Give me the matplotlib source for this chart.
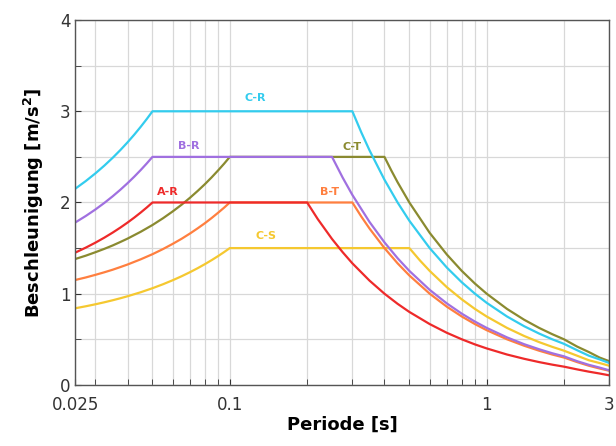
import numpy as np
import matplotlib
matplotlib.use('Agg')
import matplotlib.pyplot as plt
import matplotlib.ticker as ticker

# spectra: period [s] and acceleration [m/s^2]
T_R_RISE = [0.025, 0.0275, 0.03, 0.0325, 0.035, 0.0375, 0.04, 0.0425, 0.045, 0.0475, 0.05]
T_T_RISE = [0.025, 0.0275, 0.03, 0.0325, 0.035, 0.0375, 0.04, 0.045, 0.05, 0.055, 0.06, 0.065,
            0.07, 0.075, 0.08, 0.085, 0.09, 0.095, 0.1]
T_TAIL = [0.6, 0.7, 0.8, 0.9, 1.0, 1.2, 1.4, 1.6, 1.8, 2.0, 2.25, 2.5, 2.75, 3.0]

T_AR = T_R_RISE + [0.2, 0.22, 0.25, 0.275, 0.3, 0.35, 0.4, 0.45, 0.5] + T_TAIL
A_AR = [1.45, 1.505, 1.56, 1.615, 1.67, 1.725, 1.78, 1.835, 1.89, 1.945, 2.0,
        2.0, 1.818, 1.6, 1.455, 1.333, 1.143, 1.0, 0.889, 0.8,
        0.667, 0.571, 0.5, 0.444, 0.4, 0.333, 0.286, 0.25, 0.222, 0.2, 0.17, 0.145, 0.125, 0.105]

T_BR = T_R_RISE + [0.25, 0.275, 0.3, 0.35, 0.4, 0.45, 0.5] + T_TAIL
A_BR = [1.78, 1.852, 1.924, 1.996, 2.068, 2.14, 2.212, 2.284, 2.356, 2.428, 2.5,
        2.5, 2.273, 2.083, 1.786, 1.563, 1.389, 1.25,
        1.042, 0.893, 0.781, 0.694, 0.625, 0.521, 0.446, 0.391, 0.347, 0.313, 0.26, 0.22, 0.19, 0.16]

T_CR = T_R_RISE + [0.3, 0.325, 0.35, 0.4, 0.45, 0.5] + T_TAIL
A_CR = [2.15, 2.235, 2.32, 2.405, 2.49, 2.575, 2.66, 2.745, 2.83, 2.915, 3.0,
        3.0, 2.769, 2.571, 2.25, 2.0, 1.8,
        1.5, 1.286, 1.125, 1.0, 0.9, 0.75, 0.643, 0.563, 0.5, 0.45, 0.38, 0.32, 0.28, 0.24]

T_BT = T_T_RISE + [0.3, 0.325, 0.35, 0.4, 0.45, 0.5] + T_TAIL
A_BT = [1.15, 1.178, 1.207, 1.235, 1.263, 1.292, 1.32, 1.377, 1.433, 1.49, 1.547, 1.603,
        1.66, 1.717, 1.773, 1.83, 1.887, 1.943, 2.0,
        2.0, 1.846, 1.714, 1.5, 1.333, 1.2,
        1.0, 0.857, 0.75, 0.667, 0.6, 0.5, 0.429, 0.375, 0.333, 0.3, 0.25, 0.21, 0.18, 0.155]

T_CT = T_T_RISE + [0.4, 0.425, 0.45, 0.5] + T_TAIL
A_CT = [1.38, 1.417, 1.455, 1.492, 1.529, 1.567, 1.604, 1.679, 1.753, 1.828, 1.903, 1.977,
        2.052, 2.127, 2.201, 2.276, 2.351, 2.425, 2.5,
        2.5, 2.353, 2.222, 2.0,
        1.667, 1.429, 1.25, 1.111, 1.0, 0.833, 0.714, 0.625, 0.556, 0.5, 0.42, 0.36, 0.3, 0.26]

T_CS = T_T_RISE + [0.5, 0.55] + T_TAIL
A_CS = [0.84, 0.862, 0.884, 0.906, 0.928, 0.95, 0.972, 1.016, 1.06, 1.104, 1.148, 1.192,
        1.236, 1.28, 1.324, 1.368, 1.412, 1.456, 1.5,
        1.5, 1.364,
        1.25, 1.071, 0.938, 0.833, 0.75, 0.625, 0.536, 0.469, 0.417, 0.375, 0.32, 0.27, 0.24, 0.21]

curves = [
    ('C-S', T_CS, A_CS, '#f5c830', 0.138, 1.63),
    ('B-T', T_BT, A_BT, '#ff7f3f', 0.244, 2.11),
    ('C-T', T_CT, A_CT, '#8a8a30', 0.30, 2.61),
    ('A-R', T_AR, A_AR, '#ee2a2a', 0.0575, 2.11),
    ('B-R', T_BR, A_BR, '#a070e0', 0.069, 2.62),
    ('C-R', T_CR, A_CR, '#33ccee', 0.1256, 3.15),
]

fig = plt.figure(figsize=(6.16, 4.46), dpi=100)
ax = fig.add_axes([0.122, 0.137, 0.867, 0.818])

for name, t, a, col, tx, ty in curves:
    ax.plot(t, a, color=col, linewidth=1.6)
    ax.text(tx, ty, name, color=col, fontsize=8, fontweight='bold', ha='center', va='center')

ax.set_xscale('log')
ax.set_xlim(0.025, 3)
ax.set_ylim(0, 4)
ax.set_xticks([0.025, 0.1, 1, 3])
ax.xaxis.set_major_formatter(ticker.FixedFormatter(['0.025', '0.1', '1', '3']))
ax.xaxis.set_minor_locator(ticker.LogLocator(base=10, subs=np.arange(2, 10)))
ax.xaxis.set_minor_formatter(ticker.NullFormatter())
ax.set_yticks([0, 1, 2, 3, 4])
ax.yaxis.set_minor_locator(ticker.MultipleLocator(0.5))

ax.grid(True, which='both', color='#d8d8d8', linewidth=0.9)
ax.set_axisbelow(True)
ax.tick_params(which='both', direction='in', colors='#333333', labelsize=12, length=4)
ax.tick_params(axis='x', pad=8)
for s in ax.spines.values():
    s.set_color('#555555')
    s.set_linewidth(1.0)

ax.set_xlabel('Periode [s]', fontsize=13, fontweight='bold', labelpad=1)
ax.set_ylabel('Beschleunigung [m/s$^\\mathbf{2}$]', fontsize=13, fontweight='bold', labelpad=10)

fig.savefig('out.png', dpi=100)
